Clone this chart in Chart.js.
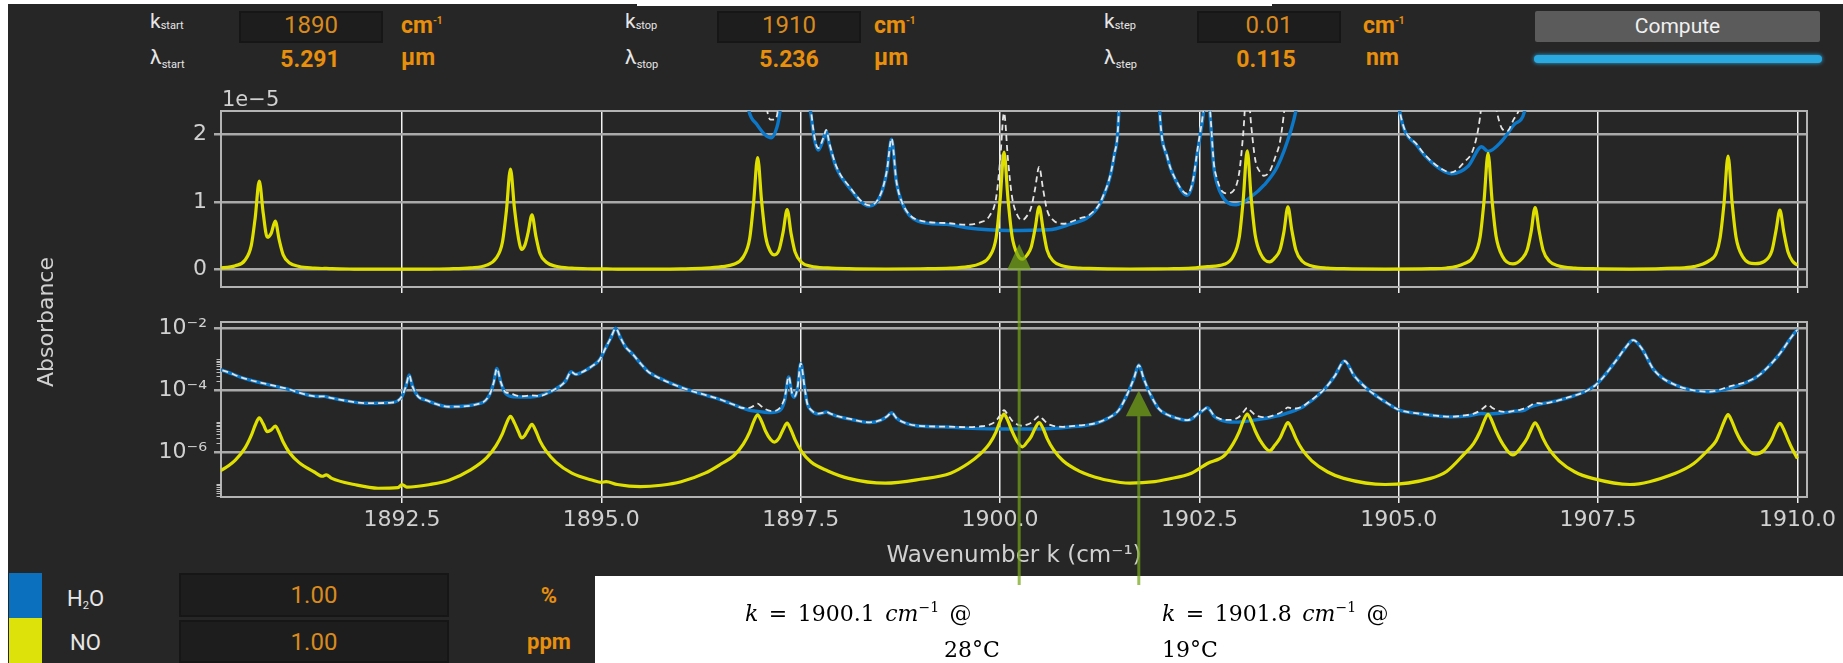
<!DOCTYPE html>
<html><head><meta charset="utf-8">
<script src="https://cdn.jsdelivr.net/npm/chart.js@4.4.1/dist/chart.umd.min.js"></script>
<style>
html,body{margin:0;padding:0;background:#fff;width:1843px;height:663px;overflow:hidden;position:relative;}
#panel{position:absolute;left:8px;top:4px;width:1835px;height:659px;background:#262626;}
#notch{position:absolute;left:637px;top:0;width:635px;height:6px;background:#fff;}
#whitebr{position:absolute;left:595px;top:576px;width:1248px;height:87px;background:#fff;}
canvas{position:absolute;left:0;}
#c1{top:0;}
#c2{top:300px;}
.t{position:absolute;white-space:nowrap;line-height:1;font-family:Roboto,'Liberation Sans',sans-serif;}
.lab{color:#e6e6e6;font-size:21px;}
.sub{font-size:11px;vertical-align:-1px;}
.sub2{font-size:11px;vertical-align:-4px;}
.or{color:#e88f0c;font-weight:bold;font-size:23px;}
.sup{font-size:10px;vertical-align:9px;}
.box{position:absolute;background:#1d1d1d;border:2px solid #161616;box-sizing:border-box;display:flex;align-items:center;justify-content:center;color:#d98a1e;font-family:Roboto,sans-serif;font-weight:400;font-size:24px;line-height:1;}
#btn{position:absolute;left:1535px;top:11px;width:285px;height:31px;background:#5b5b5b;border-radius:2px;display:flex;align-items:center;justify-content:center;color:#f0f0f0;font-family:Roboto,sans-serif;font-size:21px;line-height:1;}
#bar{position:absolute;left:1534px;top:55px;width:288px;height:8px;background:#2aa8e0;border-radius:4px;box-shadow:0 0 4px #2aa8e0;}
.strip{position:absolute;left:9px;width:33px;}
.ann{position:absolute;white-space:nowrap;line-height:1;font-family:'DejaVu Serif','Liberation Serif',serif;font-size:22px;color:#000;word-spacing:3.5px;}
.ann sup{font-size:14px;vertical-align:9px;line-height:0;}
#ylab{position:absolute;left:46px;top:322px;transform:translate(-50%,-50%) rotate(-90deg);font-family:'DejaVu Sans',sans-serif;font-size:22px;color:#d0d0d0;white-space:nowrap;line-height:1;}
#off{position:absolute;left:222px;top:89px;font-family:'DejaVu Sans',sans-serif;font-size:21px;color:#d0d0d0;line-height:1;}
svg{position:absolute;left:0;top:0;}
</style></head>
<body>
<div id="panel"></div>
<div id="notch"></div>
<div id="whitebr"></div>

<!-- top controls -->
<div class="t lab" style="left:150px;top:11px;">k<span class="sub">start</span></div>
<div class="t lab" style="left:150px;top:47px;">λ<span class="sub2">start</span></div>
<div class="box" style="left:239px;top:11px;width:144px;height:32px;padding-bottom:4px;">1890</div>
<div class="t or" style="left:401px;top:14px;">cm<span class="sup">-1</span></div>
<div class="t or" style="left:280px;top:48px;width:60px;text-align:center;">5.291</div>
<div class="t or" style="left:401px;top:46px;">µm</div>

<div class="t lab" style="left:625px;top:11px;">k<span class="sub">stop</span></div>
<div class="t lab" style="left:625px;top:47px;">λ<span class="sub2">stop</span></div>
<div class="box" style="left:717px;top:11px;width:144px;height:32px;padding-bottom:4px;">1910</div>
<div class="t or" style="left:874px;top:14px;">cm<span class="sup">-1</span></div>
<div class="t or" style="left:759px;top:48px;width:60px;text-align:center;">5.236</div>
<div class="t or" style="left:874px;top:46px;">µm</div>

<div class="t lab" style="left:1104px;top:11px;">k<span class="sub">step</span></div>
<div class="t lab" style="left:1104px;top:47px;">λ<span class="sub2">step</span></div>
<div class="box" style="left:1197px;top:11px;width:144px;height:32px;padding-bottom:4px;">0.01</div>
<div class="t or" style="left:1363px;top:14px;">cm<span class="sup">-1</span></div>
<div class="t or" style="left:1236px;top:48px;width:60px;text-align:center;">0.115</div>
<div class="t or" style="left:1366px;top:46px;">nm</div>

<div id="btn">Compute</div>
<div id="bar"></div>

<!-- bottom legend -->
<div class="strip" style="top:573px;height:45px;background:#0b70bd;"></div>
<div class="strip" style="top:618px;height:45px;background:#dde30a;"></div>
<div class="t lab" style="left:67px;top:588px;font-size:22px;">H<span class="sub" style="vertical-align:-3px">2</span>O</div>
<div class="t lab" style="left:70px;top:632px;font-size:22px;">NO</div>
<div class="box" style="left:179px;top:573px;width:270px;height:44px;">1.00</div>
<div class="box" style="left:179px;top:620px;width:270px;height:43px;">1.00</div>
<div class="t or" style="left:520px;top:585px;width:58px;text-align:center;font-size:22px;">%</div>
<div class="t or" style="left:520px;top:631px;width:58px;text-align:center;font-size:22px;">ppm</div>

<canvas id="c1" width="1843" height="330"></canvas>
<canvas id="c2" width="1843" height="300"></canvas>

<div id="off">1e−5</div>
<div id="ylab">Absorbance</div>

<div class="ann" style="left:745px;top:603px;"><i>k</i> = 1900.1 <i>cm</i><sup>−1</sup> @</div>
<div class="ann" style="left:944px;top:639px;">28°C</div>
<div class="ann" style="left:1162px;top:603px;"><i>k</i> = 1901.8 <i>cm</i><sup>−1</sup> @</div>
<div class="ann" style="left:1162px;top:639px;">19°C</div>

<svg id="ov" width="1843" height="663"></svg>

<script>
// ---------------- DATA (absorbance in units of 1e-5) ----------------
const X_MIN = 1890.23, X_MAX = 1910.12;
const xTicks = [1892.5, 1895.0, 1897.5, 1900.0, 1902.5, 1905.0, 1907.5, 1910.0];
const xTickLabels = ['1892.5','1895.0','1897.5','1900.0','1902.5','1905.0','1907.5','1910.0'];
const linTicks = [0, 1, 2];
const LIN_MIN = -0.256, LIN_MAX = 2.348;
const logMajor = [1e-6, 1e-4, 1e-2];
const logMinor = [4e-8,5e-8,6e-8,7e-8,8e-8,9e-8,1e-7, 2e-6,3e-6,4e-6,5e-6,6e-6,7e-6,8e-6,9e-6,1e-5, 2e-4,3e-4,4e-4,5e-4,6e-4,7e-4,8e-4,9e-4,1e-3];
const LOG_MIN = 3.77e-8, LOG_MAX = 0.01596;

// NO (yellow) [k, A x1e5]
const NO_points = [
[1890.00,0.015],[1890.22,0.026],[1890.41,0.058],[1890.53,0.14],[1890.61,0.36],[1890.66,0.78],[1890.71,1.31],[1890.76,0.83],[1890.81,0.48],[1890.86,0.54],[1890.91,0.72],[1890.96,0.44],[1891.01,0.22],[1891.09,0.10],[1891.21,0.048],[1891.40,0.024],[1891.50,0.0175],[1891.55,0.0195],[1891.62,0.015],[1891.90,0.0095],[1892.20,0.0072],[1892.45,0.0075],[1892.50,0.0095],[1892.56,0.0078],[1892.85,0.0095],[1893.09,0.013],
[1893.36,0.028],[1893.56,0.068],[1893.68,0.17],[1893.76,0.41],[1893.81,0.88],[1893.86,1.49],[1893.91,0.91],[1893.96,0.47],[1894.00,0.30],[1894.04,0.36],[1894.08,0.54],[1894.13,0.81],[1894.18,0.49],[1894.23,0.24],[1894.31,0.11],[1894.43,0.05],[1894.63,0.022],[1894.90,0.0128],[1895.00,0.0112],[1895.06,0.0118],[1895.20,0.0095],[1895.49,0.0081],[1895.75,0.0090],[1896.00,0.0117],[1896.30,0.022],
[1896.51,0.045],[1896.66,0.08],[1896.78,0.19],[1896.86,0.46],[1896.91,1.0],[1896.96,1.66],[1897.01,1.01],[1897.06,0.49],[1897.12,0.27],[1897.17,0.22],[1897.23,0.30],[1897.28,0.56],[1897.33,0.89],[1897.38,0.53],[1897.43,0.26],[1897.51,0.11],[1897.63,0.05],[1897.84,0.026],[1898.10,0.015],[1898.56,0.0105],[1899.00,0.014],[1899.38,0.022],
[1899.60,0.045],[1899.75,0.09],[1899.87,0.20],[1899.95,0.47],[1900.00,1.02],[1900.05,1.74],[1900.10,1.04],[1900.15,0.50],[1900.22,0.22],[1900.28,0.155],[1900.34,0.22],[1900.39,0.33],[1900.44,0.61],[1900.49,0.93],[1900.54,0.60],[1900.59,0.29],[1900.67,0.125],[1900.79,0.055],[1901.00,0.025],[1901.12,0.019],[1901.35,0.013],[1901.63,0.0105],[1901.94,0.0117],[1902.10,0.014],[1902.40,0.022],
[1902.60,0.045],[1902.81,0.08],[1902.92,0.19],[1903.00,0.48],[1903.05,1.04],[1903.10,1.76],[1903.15,1.05],[1903.20,0.51],[1903.27,0.23],[1903.38,0.115],[1903.45,0.18],[1903.51,0.29],[1903.56,0.56],[1903.61,0.93],[1903.66,0.58],[1903.71,0.29],[1903.79,0.125],[1903.91,0.055],[1904.11,0.024],[1904.31,0.015],[1904.83,0.0095],[1905.40,0.015],[1905.60,0.025],
[1905.82,0.09],[1905.94,0.20],[1906.02,0.48],[1906.07,1.02],[1906.12,1.72],[1906.17,1.03],[1906.22,0.50],[1906.30,0.20],[1906.43,0.085],[1906.55,0.17],[1906.61,0.29],[1906.66,0.56],[1906.71,0.92],[1906.76,0.58],[1906.81,0.29],[1906.89,0.125],[1907.01,0.055],[1907.21,0.024],[1907.43,0.015],[1907.90,0.0095],[1908.47,0.022],
[1908.70,0.045],[1908.89,0.13],[1908.98,0.24],[1909.03,0.47],[1909.08,0.99],[1909.13,1.68],[1909.18,1.0],[1909.23,0.48],[1909.31,0.20],[1909.47,0.09],[1909.58,0.12],[1909.68,0.28],[1909.73,0.57],[1909.78,0.88],[1909.83,0.55],[1909.88,0.27],[1909.94,0.125],[1910.00,0.065]
];

// H2O (blue) [k, A x1e5]
const H2O_points = [
[1890.00,55],[1890.23,46],[1890.52,24.5],[1891.03,11.7],[1891.45,6.4],[1891.52,6.5],[1891.62,5.7],[1892.06,3.9],[1892.37,4.1],[1892.50,6.5],[1892.55,14],[1892.59,31.6],[1892.63,14],[1892.70,6.5],[1892.80,4.9],[1893.09,3.0],[1893.49,3.9],[1893.60,7.5],[1893.65,18],[1893.69,51],[1893.74,18],[1893.80,8],[1893.90,6.3],[1894.11,6.2],[1894.36,9.1],[1894.55,20],[1894.62,40],[1894.68,33],[1894.75,38],[1894.88,60],[1894.98,100],[1895.06,250],[1895.12,500],[1895.18,1000],[1895.24,500],[1895.30,260],[1895.39,150],[1895.50,70],[1895.60,38],[1895.64,33],[1895.70,27],[1896.00,12.6],
[1896.51,4.9],[1896.85,2.35],[1896.95,2.15],[1897.05,2.0],[1897.13,1.95],[1897.20,2.1],[1897.26,2.6],[1897.30,5],[1897.35,27.5],[1897.39,8],[1897.42,6],[1897.46,12],[1897.50,74],[1897.55,12],[1897.58,4],[1897.64,2.2],[1897.72,1.77],[1897.79,1.95],[1897.82,2.05],[1897.86,1.85],[1897.95,1.5],[1898.10,1.23],[1898.36,0.94],[1898.50,1.1],[1898.58,1.45],[1898.64,1.93],[1898.70,1.3],[1898.77,0.99],[1898.97,0.72],[1899.33,0.67],[1899.58,0.62],
[1900.10,0.58],[1900.61,0.59],[1900.87,0.67],[1901.12,0.79],[1901.28,1.04],[1901.43,1.68],[1901.49,2.35],[1901.60,8],[1901.68,25],[1901.74,66],[1901.80,25],[1901.88,8],[1901.99,2.6],[1902.10,1.65],[1902.20,1.33],[1902.35,1.10],[1902.42,1.3],[1902.48,1.77],[1902.54,2.22],[1902.60,2.8],[1902.64,2.2],[1902.68,1.53],[1902.72,1.28],[1902.79,1.08],[1902.89,0.97],[1902.96,0.96],[1903.15,1.08],[1903.31,1.25],[1903.48,1.53],[1903.65,2.07],[1903.71,2.35],[1903.80,3.0],
[1904.06,10.5],[1904.20,30],[1904.32,89],[1904.44,30],[1904.62,10.5],[1904.85,4],[1905.01,2.35],[1905.24,1.82],[1905.45,1.55],[1905.66,1.42],[1905.87,1.53],[1906.04,1.82],[1906.12,1.75],[1906.29,1.90],[1906.45,2.15],[1906.58,2.35],[1906.64,2.9],[1907.06,5.25],[1907.47,15.1],[1907.73,95],[1907.85,250],[1907.94,417],[1908.05,220],[1908.20,46],[1908.47,15.1],[1908.89,9.1],[1909.14,11.7],[1909.49,27.5],[1909.75,123],[1909.96,692],[1910.00,900]
];

// Total (white dashed) [k, A x1e5]
const TOTAL_points = [
[1890.00,55],[1890.23,46],[1890.52,24.6],[1891.03,11.9],[1891.45,6.42],[1891.52,6.52],[1891.62,5.72],[1892.06,3.91],[1892.37,4.11],[1892.50,6.51],[1892.55,14],[1892.59,31.6],[1892.63,14],[1892.70,6.51],[1892.80,4.91],[1893.09,3.01],[1893.49,3.92],[1893.60,7.55],[1893.65,18.1],[1893.69,51],[1893.74,18.3],[1893.80,8.7],[1893.86,8.3],[1893.92,7.1],[1894.00,6.55],[1894.13,7.0],[1894.22,6.7],[1894.36,9.15],[1894.55,20],[1894.62,40],[1894.68,33],[1894.75,38],[1894.88,60],[1894.98,100],[1895.06,250],[1895.12,500],[1895.18,1000],[1895.24,500],[1895.30,260],[1895.39,150],[1895.50,70],[1895.60,38],[1895.64,33],[1895.70,27],[1896.00,12.6],
[1896.51,4.95],[1896.66,3.5],[1896.78,2.74],[1896.85,2.75],[1896.91,3.2],[1896.96,3.78],[1897.01,3.05],[1897.06,2.49],[1897.12,2.22],[1897.17,2.22],[1897.23,2.6],[1897.28,4.2],[1897.30,5.8],[1897.35,28.4],[1897.39,8.5],[1897.42,6.4],[1897.46,12.2],[1897.50,74],[1897.55,12.1],[1897.58,4.07],[1897.64,2.25],[1897.72,1.80],[1897.79,1.97],[1897.82,2.07],[1897.86,1.87],[1897.95,1.52],[1898.10,1.245],[1898.36,0.952],[1898.50,1.11],[1898.58,1.46],[1898.64,1.94],[1898.70,1.31],[1898.77,1.0],[1898.97,0.735],[1899.33,0.69],[1899.58,0.665],
[1899.75,0.70],[1899.87,0.80],[1899.95,1.06],[1900.00,1.60],[1900.05,2.32],[1900.10,1.62],[1900.15,1.08],[1900.22,0.80],[1900.28,0.735],[1900.34,0.80],[1900.39,0.92],[1900.44,1.20],[1900.49,1.52],[1900.54,1.19],[1900.59,0.88],[1900.67,0.73],[1900.79,0.68],[1900.87,0.70],[1901.00,0.76],[1901.12,0.81],[1901.28,1.055],[1901.43,1.69],[1901.49,2.36],[1901.60,8],[1901.68,25],[1901.74,66],[1901.80,25],[1901.88,8],
[1901.99,2.61],[1902.10,1.66],[1902.20,1.34],[1902.35,1.12],[1902.42,1.33],[1902.48,1.81],[1902.54,2.26],[1902.60,2.85],[1902.64,2.26],[1902.68,1.59],[1902.72,1.35],[1902.79,1.155],[1902.85,1.13],[1902.92,1.16],[1903.00,1.44],[1903.05,2.02],[1903.10,2.78],[1903.15,2.13],[1903.20,1.63],[1903.27,1.43],[1903.31,1.39],[1903.38,1.45],[1903.45,1.66],[1903.51,1.89],[1903.56,2.31],[1903.61,2.89],[1903.66,2.65],[1903.71,2.64],[1903.79,3.05],[1903.91,5.06],[1904.06,10.52],[1904.20,30],[1904.32,89],[1904.44,30],[1904.62,10.5],[1904.85,4.01],[1905.01,2.36],[1905.24,1.835],[1905.45,1.565],[1905.66,1.44],
[1905.82,1.59],[1905.94,1.8],[1906.02,2.26],[1906.07,2.84],[1906.12,3.47],[1906.17,2.8],[1906.22,2.4],[1906.30,2.08],[1906.36,2.05],[1906.44,2.22],[1906.52,2.4],[1906.58,2.7],[1906.61,2.85],[1906.66,3.38],[1906.71,4.0],[1906.76,3.9],[1906.81,3.8],[1906.89,4.1],[1907.06,5.3],[1907.47,15.1],[1907.73,95],[1907.85,250],[1907.94,417],[1908.05,220],[1908.20,46],[1908.47,15.1],[1908.89,9.2],[1909.14,13.4],[1909.49,27.6],[1909.75,124],[1909.96,692],[1910.00,900]
];

// annotation arrows: wavenumber positions, and tip/base values
const ARROW_K = [1900.24, 1901.74];
const ARROW1_TIP = 0.38, ARROW1_BASE = 0;       // top (linear, x1e-5)
const ARROW2_TIP = 1e-4, ARROW2_BASE = 1.5e-5;  // bottom (log)
const ARROW_END_Y = 585;

// ---------------- CHARTS ----------------
Chart.defaults.font.family = "'DejaVu Sans', sans-serif";
const SUP = {'-':'⁻','0':'⁰','1':'¹','2':'²','3':'³','4':'⁴','5':'⁵','6':'⁶','7':'⁷','8':'⁸','9':'⁹'};

const framePlugin = {
  id:'frame',
  beforeDatasetsDraw(chart, args, opts){
    const {ctx, chartArea:a} = chart;
    ctx.save();
    ctx.strokeStyle = '#b3b3b3'; ctx.lineWidth = 2;
    ctx.strokeRect(a.left, a.top, a.right - a.left, a.bottom - a.top);
    if (opts && opts.minor){
      const ys = chart.scales.y;
      ctx.lineWidth = 1.2; ctx.strokeStyle = '#bdbdbd';
      ctx.beginPath();
      opts.minor.forEach(v => {
        const y = Math.round(ys.getPixelForValue(v)) + 0.5;
        ctx.moveTo(a.left - 4.5, y); ctx.lineTo(a.left, y);
      });
      ctx.stroke();
    }
    ctx.restore();
  }
};

function toXY(arr, f){ return arr.map(p => ({x:p[0], y:p[1]*f})); }
function ds(data, color, width, dash){
  return {data, borderColor:color, borderWidth:width, borderDash:dash||[], pointRadius:0, fill:false,
          cubicInterpolationMode:'monotone', clip:0};
}
function datasets(f){
  return [
    ds(toXY(TOTAL_points, f), '#e4e4e4', 1.8, [6,4]),
    ds(toXY(NO_points, f), '#dfe000', 3.2),
    ds(toXY(H2O_points, f), '#0b78c9', 3.4)
  ];
}
const xGrid = {color:'#f2f2f2', lineWidth:1.5, tickLength:6, drawTicks:true};
const yGrid = {color:'#a9a9a9', lineWidth:2.5, tickLength:7, drawTicks:true};

const ch1 = new Chart(document.getElementById('c1'), {
  type:'line',
  data:{datasets: datasets(1)},
  options:{
    responsive:false, animation:false, events:[],
    layout:{padding:{left:0, top:111, right:36, bottom:0}, autoPadding:false},
    plugins:{legend:{display:false}, tooltip:{enabled:false}, frame:{}},
    scales:{
      x:{type:'linear', min:X_MIN, max:X_MAX,
         afterBuildTicks: s => { s.ticks = xTicks.map(v => ({value:v})); },
         afterFit: s => { s.height = 330 - 287; },
         ticks:{display:false}, grid:xGrid, border:{display:false}},
      y:{type:'linear', min:LIN_MIN, max:LIN_MAX,
         afterBuildTicks: s => { s.ticks = linTicks.map(v => ({value:v})); },
         afterFit: s => { s.width = 221; },
         ticks:{color:'#d0d0d0', font:{size:22}, padding:7}, grid:yGrid, border:{display:false}}
    }
  },
  plugins:[framePlugin]
});

const ch2 = new Chart(document.getElementById('c2'), {
  type:'line',
  data:{datasets: datasets(1e-5)},
  options:{
    responsive:false, animation:false, events:[],
    layout:{padding:{left:0, top:22, right:36, bottom:0}, autoPadding:false},
    plugins:{legend:{display:false}, tooltip:{enabled:false}, frame:{minor:logMinor}},
    scales:{
      x:{type:'linear', min:X_MIN, max:X_MAX,
         afterBuildTicks: s => { s.ticks = xTicks.map(v => ({value:v})); },
         afterFit: s => { s.height = 300 - 197; },
         ticks:{color:'#d0d0d0', font:{size:22}, padding:4, maxRotation:0, autoSkip:false,
                callback:(v,i) => xTickLabels[i]},
         title:{display:true, text:'Wavenumber k (cm⁻¹)', color:'#d0d0d0', font:{size:23}, padding:{top:0, bottom:30}},
         grid:xGrid, border:{display:false}},
      y:{type:'logarithmic', min:LOG_MIN, max:LOG_MAX,
         afterBuildTicks: s => { s.ticks = logMajor.map(v => ({value:v})); },
         afterFit: s => { s.width = 221; },
         ticks:{color:'#d0d0d0', font:{size:22}, padding:7,
                callback: v => '10' + String(Math.round(Math.log10(v))).split('').map(c => SUP[c]).join('')},
         grid:yGrid, border:{display:false}}
    }
  },
  plugins:[framePlugin]
});

// ---------------- ARROWS (overlay) ----------------
(function(){
  const svg = document.getElementById('ov');
  const NS = 'http://www.w3.org/2000/svg';
  const col = 'rgba(117,165,23,0.72)';
  function line(x, y1, y2){
    const l = document.createElementNS(NS,'line');
    l.setAttribute('x1',x); l.setAttribute('x2',x); l.setAttribute('y1',y1); l.setAttribute('y2',y2);
    l.setAttribute('stroke',col); l.setAttribute('stroke-width','3'); svg.appendChild(l);
  }
  function head(x, tip, base, hw){
    const p = document.createElementNS(NS,'polygon');
    p.setAttribute('points', `${x},${tip} ${x-hw},${base} ${x+hw},${base}`);
    p.setAttribute('fill', col); svg.appendChild(p);
  }
  const x1 = ch1.scales.x.getPixelForValue(ARROW_K[0]);
  const t1 = ch1.scales.y.getPixelForValue(ARROW1_TIP);
  const b1 = ch1.scales.y.getPixelForValue(ARROW1_BASE);
  line(x1, b1, ARROW_END_Y); head(x1, t1, b1, 12);
  const x2 = ch2.scales.x.getPixelForValue(ARROW_K[1]);
  const t2 = 300 + ch2.scales.y.getPixelForValue(ARROW2_TIP);
  const b2 = 300 + ch2.scales.y.getPixelForValue(ARROW2_BASE);
  line(x2, b2, ARROW_END_Y); head(x2, t2, b2, 13);
})();
</script>
</body></html>
